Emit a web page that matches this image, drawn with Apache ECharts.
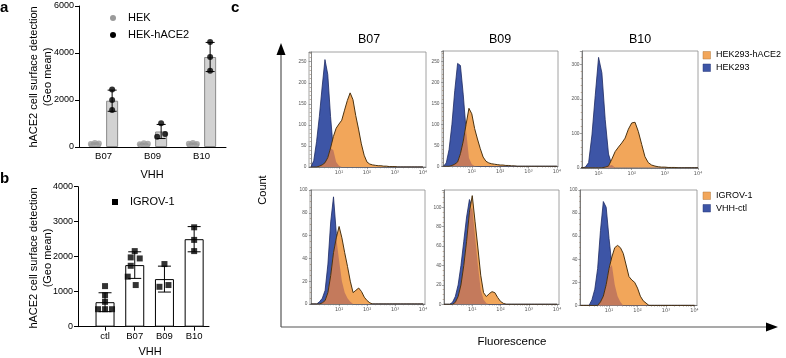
<!DOCTYPE html>
<html><head><meta charset="utf-8">
<script src="https://cdn.jsdelivr.net/npm/echarts@6/dist/echarts.min.js"></script>
<style>html,body{margin:0;padding:0;background:#fff}#c{width:786px;height:358px}</style>
</head><body><div id="c"></div>
<script>
// ================= DATA =================
// Panel a
const aCategories = ['B07', 'B09', 'B10'];
const aLegend = ['HEK', 'HEK-hACE2'];
const aHekBar = [150, 140, 145];
const aHekSD = [25, 20, 22];
const aHekPoints = [[130, 175, 150], [120, 160, 140], [140, 170, 125]];
const aAceBar = [1970, 660, 3830];
const aAceSD = [450, 300, 620];
const aAcePoints = [[2450, 2000, 1575], [1010, 440, 555], [4470, 3830, 3250]];
const aYTicks = [0, 2000, 4000, 6000];

// Panel b
const bCategories = ['ctl', 'B07', 'B09', 'B10'];
const bLegend = 'IGROV-1';
const bMeans = [700, 1760, 1360, 2500];
const bSD = [270, 380, 370, 360];
const bPoints = [[1160, 900, 710, 500, 500, 500], [2160, 1980, 1950, 1740, 1430, 1190], [1790, 1140, 1190], [2840, 2480, 2160]];
const bYTicks = [0, 1000, 2000, 3000, 4000];

// Panel c (histograms, x = log10 fluorescence bins, y = count)
const logBins = [0, 0.1, 0.2, 0.3, 0.4, 0.5, 0.6, 0.7, 0.8, 0.9, 1.0, 1.1, 1.2, 1.3, 1.4, 1.5, 1.6, 1.7, 1.8, 1.9, 2.0,
  2.1, 2.2, 2.3, 2.4, 2.5, 2.6, 2.7, 2.8, 2.9, 3.0, 3.1, 3.2, 3.3, 3.4, 3.5, 3.6, 3.7, 3.8, 3.9, 4.0];
const decadeTicks = [1, 2, 3, 4];
const decadeLabels = ['10⁰', '10¹', '10²', '10³', '10⁴'];
const histTitles = ['B07', 'B09', 'B10'];
const topLegend = ['HEK293-hACE2', 'HEK293'];
const bottomLegend = ['IGROV-1', 'VHH-ctl'];

const topB07Blue = [0, 15, 60, 120, 190, 255, 220, 120, 40, 12, 3, 0];
const topB07Orange = [0, 0, 0, 2, 5, 10, 22, 45, 72, 92, 102, 111, 135, 158, 176, 160, 122, 90, 55, 28, 12, 7, 5, 4, 3, 3, 2, 2, 1, 1, 1, 0];
const topB09Blue = [0, 8, 40, 100, 180, 245, 240, 170, 85, 20, 5, 1, 0];
const topB09Orange = [0, 0, 0, 2, 5, 10, 30, 60, 100, 138, 125, 90, 65, 42, 22, 12, 8, 6, 5, 4, 3, 3, 2, 2, 1, 1, 0];
const topB10Blue = [0, 0, 0, 0, 0, 0, 2, 15, 95, 210, 320, 275, 140, 40, 8, 0];
const topB10Orange = [0, 0, 0, 0, 0, 0, 0, 0, 0, 0, 0, 0, 2, 5, 25, 47, 60, 72, 86, 112, 130, 132, 105, 68, 32, 15, 8, 5, 3, 2, 2, 1, 1, 1, 0];
const botB07Blue = [0, 0, 0, 2, 5, 12, 35, 72, 94, 62, 38, 20, 10, 5, 2, 0];
const botB07Orange = [0, 0, 0, 0, 1, 3, 10, 25, 45, 58, 68, 58, 45, 33, 20, 10, 12, 14, 11, 6, 3, 1, 0];
const botB09Blue = [0, 0, 0, 2, 8, 20, 40, 65, 90, 108, 100, 70, 40, 15, 5, 1, 0];
const botB09Orange = [0, 0, 0, 0, 2, 8, 20, 40, 65, 95, 112, 85, 58, 30, 12, 8, 11, 13, 12, 7, 3, 1, 0];
const botB10Blue = [0, 0, 0, 0, 5, 14, 32, 65, 90, 85, 58, 35, 18, 8, 3, 0];
const botB10Orange = [0, 0, 0, 0, 0, 0, 0, 3, 8, 18, 32, 42, 50, 52, 50, 45, 35, 25, 22, 20, 15, 8, 4, 2, 0];
const topYTicksB07 = [0, 50, 100, 150, 200, 250];
const topYTicksB10 = [0, 100, 200, 300];
const botYTicks = [0, 20, 40, 60, 80, 100];

// ================= STYLE / LAYOUT =================
const FONT = '"Liberation Sans", Arial, Helvetica, sans-serif';
const ORANGE = '#f2a65a', BLUE = '#3d55a6', OVERLAP = '#c47a5c';
const ORANGE_LINE = '#4a3210', BLUE_LINE = '#1d2a62';
const plain = v => String(v);

const histPanels = [
  {left: 309, top: 52, width: 117, height: 115, xmin: -0.07, xmax: 4.11, ymax: 273, ticks: topYTicksB07, minor: 5, blue: topB07Blue, orange: topB07Orange},
  {left: 442, top: 51, width: 116, height: 115.3, xmin: -0.05, xmax: 4.04, ymax: 274.5, ticks: topYTicksB07, minor: 5, blue: topB09Blue, orange: topB09Orange},
  {left: 582, top: 51, width: 116, height: 116.8, xmin: 0.5, xmax: 4.0, ymax: 338.5, ticks: topYTicksB10, minor: 5, blue: topB10Blue, orange: topB10Orange},
  {left: 310, top: 190, width: 115, height: 114, xmin: -0.04, xmax: 4.07, ymax: 100, ticks: botYTicks, minor: 4, blue: botB07Blue, orange: botB07Orange},
  {left: 444, top: 190, width: 115, height: 114.3, xmin: 0, xmax: 4.07, ymax: 117.8, ticks: botYTicks, minor: 4, blue: botB09Blue, orange: botB09Orange},
  {left: 580, top: 190, width: 117, height: 115.4, xmin: -0.02, xmax: 4.09, ymax: 100, ticks: botYTicks, minor: 4, blue: botB10Blue, orange: botB10Orange}
];

const grids = [], xAxes = [], yAxes = [], series = [];
const blackAxis = {lineStyle: {color: '#000', width: 1}};

// ---------- panel a ----------
grids.push({left: 79, top: 6, width: 147, height: 141});
xAxes.push({gridIndex: 0, type: 'category', data: aCategories,
  axisLine: blackAxis, axisTick: {alignWithLabel: true, length: 4, lineStyle: {color: '#000'}},
  axisLabel: {fontSize: 9.5, color: '#000', margin: 4, fontFamily: FONT}});
yAxes.push({gridIndex: 0, type: 'value', min: aYTicks[0], max: aYTicks[aYTicks.length - 1], interval: aYTicks[1] - aYTicks[0],
  axisLine: {show: true, lineStyle: {color: '#000', width: 1}}, axisTick: {show: true, length: 4, lineStyle: {color: '#000'}},
  axisLabel: {fontSize: 9, color: '#000', margin: 5, fontFamily: FONT, formatter: plain}, splitLine: {show: false}});
series.push({type: 'bar', xAxisIndex: 0, yAxisIndex: 0, data: aHekBar, barWidth: 12, barGap: '44%', z: 2,
  itemStyle: {color: '#d8d8d8', borderColor: '#9c9c9c', borderWidth: 1}});
series.push({type: 'bar', xAxisIndex: 0, yAxisIndex: 0, data: aAceBar, barWidth: 12, barGap: '44%', z: 2,
  itemStyle: {color: '#d2d2d2', borderColor: '#8a8a8a', borderWidth: 1}});

function errRender(offsetPx, capPx, color) {
  return function (params, api) {
    const x = api.value(0), m = api.value(1), sd = api.value(2);
    const top = api.coord([x, m + sd]), bot = api.coord([x, Math.max(0, m - sd)]);
    const cx = top[0] + offsetPx;
    const st = {stroke: color, lineWidth: 1};
    return {type: 'group', children: [
      {type: 'line', shape: {x1: cx, y1: top[1], x2: cx, y2: bot[1]}, style: st},
      {type: 'line', shape: {x1: cx - capPx / 2, y1: top[1], x2: cx + capPx / 2, y2: top[1]}, style: st},
      {type: 'line', shape: {x1: cx - capPx / 2, y1: bot[1], x2: cx + capPx / 2, y2: bot[1]}, style: st}
    ]};
  };
}
const aOff = 8.64;
series.push({type: 'custom', xAxisIndex: 0, yAxisIndex: 0, z: 4, renderItem: errRender(-aOff, 8, '#777'),
  data: aHekBar.map((v, i) => [i, v, aHekSD[i]])});
series.push({type: 'custom', xAxisIndex: 0, yAxisIndex: 0, z: 4, renderItem: errRender(aOff, 9, '#000'),
  data: aAceBar.map((v, i) => [i, v, aAceSD[i]])});
const aHekJitter = [-4, 0, 4];
const aAceJitter = [[0, 0, 0], [0, -4, 4], [0, 0, 0]];
const hekPts = [], acePts = [];
aHekPoints.forEach((arr, i) => arr.forEach((v, j) => hekPts.push({value: [i, v], symbolOffset: [-aOff + aHekJitter[j], 0]})));
aAcePoints.forEach((arr, i) => arr.forEach((v, j) => acePts.push({value: [i, v], symbolOffset: [aOff + aAceJitter[i][j], 0]})));
series.push({type: 'scatter', xAxisIndex: 0, yAxisIndex: 0, z: 5, symbol: 'circle', symbolSize: 6, data: hekPts, itemStyle: {color: '#9a9a9a'}});
series.push({type: 'scatter', xAxisIndex: 0, yAxisIndex: 0, z: 5, symbol: 'circle', symbolSize: 6, data: acePts, itemStyle: {color: '#000'}});

// ---------- panel b ----------
grids.push({left: 78, top: 186.7, width: 131, height: 140});
xAxes.push({gridIndex: 1, type: 'value', min: 0.09, max: 4.5,
  axisLine: {onZero: false, lineStyle: {color: '#000', width: 1}},
  axisTick: {customValues: [1, 2, 3, 4], length: 4, lineStyle: {color: '#000'}},
  axisLabel: {customValues: [1, 2, 3, 4], formatter: v => bCategories[Math.round(v) - 1], fontSize: 9.5, color: '#000', margin: 5, fontFamily: FONT},
  splitLine: {show: false}});
yAxes.push({gridIndex: 1, type: 'value', min: bYTicks[0], max: bYTicks[bYTicks.length - 1], interval: bYTicks[1] - bYTicks[0],
  axisLine: {show: true, lineStyle: {color: '#000', width: 1}}, axisTick: {show: true, length: 4, lineStyle: {color: '#000'}},
  axisLabel: {fontSize: 9, color: '#000', margin: 5, fontFamily: FONT, formatter: plain}, splitLine: {show: false}});
series.push({type: 'bar', xAxisIndex: 1, yAxisIndex: 1, barWidth: 19, z: 2,
  data: bMeans.map((v, i) => [i + 1, v]), itemStyle: {color: '#fff', borderColor: '#000', borderWidth: 1}});
series.push({type: 'custom', xAxisIndex: 1, yAxisIndex: 1, z: 4, renderItem: errRender(0, 13, '#000'),
  data: bMeans.map((v, i) => [i + 1, v, bSD[i]])});
const bJitter = [[0, 0, 0, -7, 0, 7], [0, -4, 5, -4, -7, 1], [0, -5, 4], [0, 0, 0]];
const bPts = [];
bPoints.forEach((arr, i) => arr.forEach((v, j) => bPts.push({value: [i + 1, v], symbolOffset: [bJitter[i][j], 0]})));
series.push({type: 'scatter', xAxisIndex: 1, yAxisIndex: 1, z: 5, symbol: 'rect', symbolSize: 6, data: bPts, itemStyle: {color: '#000'}});

// ---------- panel c ----------
const minorLog = [];
for (let n = 0; n < 4; n++) for (let k = 2; k <= 9; k++) minorLog.push(n + Math.log10(k));

histPanels.forEach((p) => {
  const gi = grids.length;
  grids.push({left: p.left, top: p.top, width: p.width, height: p.height, show: true,
    borderColor: '#8c8c8c', borderWidth: 0.8, backgroundColor: 'rgba(0,0,0,0)'});
  const xi = xAxes.length;
  xAxes.push({gridIndex: gi, type: 'value', position: 'bottom', min: p.xmin, max: p.xmax,
    axisLine: {onZero: false, lineStyle: {color: '#666', width: 0.8}},
    axisTick: {customValues: decadeTicks, length: 2.2, lineStyle: {color: '#666', width: 0.6}},
    axisLabel: {customValues: decadeTicks, formatter: v => decadeLabels[Math.round(v)], fontSize: 5, color: '#555', margin: 3, fontFamily: '"DejaVu Sans", sans-serif'},
    splitLine: {show: false}});
  xAxes.push({gridIndex: gi, type: 'value', position: 'bottom', min: p.xmin, max: p.xmax,
    axisLine: {show: false},
    axisTick: {customValues: minorLog.filter(v => v > p.xmin && v < p.xmax), length: 1.3, lineStyle: {color: '#777', width: 0.5}},
    axisLabel: {show: false}, splitLine: {show: false}});
  const yi = yAxes.length;
  yAxes.push({gridIndex: gi, type: 'value', min: 0, max: p.ymax, interval: p.ticks[1] - p.ticks[0],
    axisLine: {show: true, lineStyle: {color: '#666', width: 0.8}},
    axisTick: {show: true, length: 2.2, lineStyle: {color: '#666', width: 0.6}},
    minorTick: {show: true, splitNumber: p.minor, length: 1.3, lineStyle: {color: '#8a6a48', width: 0.5}},
    axisLabel: {fontSize: 4.8, color: '#555', margin: 2.5, showMaxLabel: p.ymax === p.ticks[p.ticks.length - 1], fontFamily: FONT, formatter: plain},
    splitLine: {show: false}});
  const bData = logBins.map((x, i) => [x, p.blue[i] || 0]);
  const oData = logBins.map((x, i) => [x, p.orange[i] || 0]);
  const mData = logBins.map((x, i) => [x, Math.min(p.blue[i] || 0, p.orange[i] || 0)]);
  const common = {type: 'line', xAxisIndex: xi, yAxisIndex: yi, symbol: 'none', clip: true, silent: true};
  series.push(Object.assign({}, common, {z: 2, data: bData, lineStyle: {color: BLUE_LINE, width: 0.8}, areaStyle: {color: BLUE, opacity: 1}}));
  series.push(Object.assign({}, common, {z: 3, data: oData, lineStyle: {width: 0}, areaStyle: {color: ORANGE, opacity: 1}}));
  series.push(Object.assign({}, common, {z: 4, data: mData, lineStyle: {width: 0}, areaStyle: {color: OVERLAP, opacity: 1}}));
  series.push(Object.assign({}, common, {z: 5, data: oData, lineStyle: {color: ORANGE_LINE, width: 1}}));
});

// ---------- graphics: labels, legends, big axes ----------
const txt = (x, y, text, size, opts) => Object.assign({type: 'text', x: x, y: y, silent: true,
  style: Object.assign({text: text, fontSize: size, fontFamily: FONT, fill: '#000', textVerticalAlign: 'middle'}, (opts && opts.style) || {})},
  opts && opts.rotation !== undefined ? {rotation: opts.rotation} : {});
const graphic = [
  txt(0, 8, 'a', 15, {style: {fontWeight: 'bold'}}),
  txt(0, 179, 'b', 15, {style: {fontWeight: 'bold'}}),
  txt(231, 8, 'c', 15, {style: {fontWeight: 'bold'}}),
  // panel a
  txt(34, 77, 'hACE2 cell surface detection', 11, {rotation: Math.PI / 2, style: {textAlign: 'center'}}),
  txt(48, 77, '(Geo mean)', 11, {rotation: Math.PI / 2, style: {textAlign: 'center'}}),
  {type: 'circle', shape: {cx: 113, cy: 18, r: 3}, style: {fill: '#9a9a9a'}},
  txt(128, 18, aLegend[0], 11),
  {type: 'circle', shape: {cx: 113, cy: 35, r: 3}, style: {fill: '#000'}},
  txt(128, 35, aLegend[1], 11),
  txt(152, 175, 'VHH', 11, {style: {textAlign: 'center'}}),
  // panel b
  txt(34, 258, 'hACE2 cell surface detection', 11, {rotation: Math.PI / 2, style: {textAlign: 'center'}}),
  txt(48, 258, '(Geo mean)', 11, {rotation: Math.PI / 2, style: {textAlign: 'center'}}),
  {type: 'rect', shape: {x: 112, y: 199, width: 6, height: 6}, style: {fill: '#000'}},
  txt(130, 202, bLegend, 11),
  txt(150, 352, 'VHH', 11, {style: {textAlign: 'center'}}),
  // panel c big axes
  {type: 'line', shape: {x1: 281, y1: 327, x2: 281, y2: 52}, style: {stroke: '#555', lineWidth: 1.2}},
  {type: 'polygon', shape: {points: [[281, 43], [276.5, 55], [285.5, 55]]}, style: {fill: '#000'}},
  {type: 'line', shape: {x1: 281, y1: 327, x2: 768, y2: 327}, style: {stroke: '#555', lineWidth: 1.2}},
  {type: 'polygon', shape: {points: [[778, 327], [766, 322.5], [766, 331.5]]}, style: {fill: '#000'}},
  txt(263, 190, 'Count', 11, {rotation: Math.PI / 2, style: {textAlign: 'center'}}),
  txt(512, 342, 'Fluorescence', 11.5, {style: {textAlign: 'center'}}),
  txt(369, 40, histTitles[0], 12.5, {style: {textAlign: 'center'}}),
  txt(500, 40, histTitles[1], 12.5, {style: {textAlign: 'center'}}),
  txt(640, 40, histTitles[2], 12.5, {style: {textAlign: 'center'}}),
  // legends c
  {type: 'rect', shape: {x: 703, y: 51.5, width: 7.5, height: 7.5}, style: {fill: ORANGE, stroke: '#b07a40', lineWidth: 0.5}},
  txt(716, 55, topLegend[0], 9),
  {type: 'rect', shape: {x: 703, y: 64, width: 7.5, height: 7.5}, style: {fill: BLUE, stroke: '#2a3a7a', lineWidth: 0.5}},
  txt(716, 68, topLegend[1], 9),
  {type: 'rect', shape: {x: 703, y: 192, width: 7.5, height: 7.5}, style: {fill: ORANGE, stroke: '#b07a40', lineWidth: 0.5}},
  txt(716, 196, bottomLegend[0], 9),
  {type: 'rect', shape: {x: 703, y: 204.5, width: 7.5, height: 7.5}, style: {fill: BLUE, stroke: '#2a3a7a', lineWidth: 0.5}},
  txt(716, 208.5, bottomLegend[1], 9)
];

const chart = echarts.init(document.getElementById('c'));
chart.setOption({
  animation: false,
  textStyle: {fontFamily: FONT},
  grid: grids, xAxis: xAxes, yAxis: yAxes, series: series, graphic: graphic
});
</script></body></html>
